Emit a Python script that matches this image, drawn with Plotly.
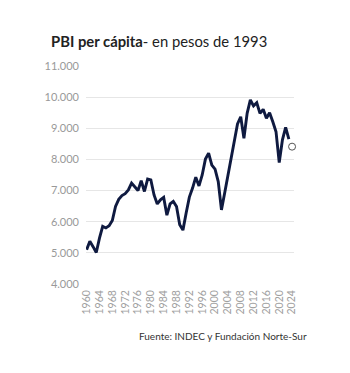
import plotly.graph_objects as go

years = list(range(1960, 2024))
pbi = [5100, 5370, 5200, 5010, 5470, 5850, 5800, 5870, 6040, 6490,
       6720, 6840, 6900, 7020, 7240, 7130, 7000, 7320, 6970, 7370,
       7340, 6860, 6570, 6700, 6780, 6210, 6570, 6650, 6490, 5900,
       5730, 6280, 6790, 7080, 7430, 7150, 7500, 8010, 8200, 7820,
       7690, 7290, 6380, 6920, 7470, 8040, 8600, 9140, 9370, 8680,
       9480, 9910, 9720, 9820, 9480, 9610, 9320, 9500, 9210, 8890,
       7900, 8630, 9030, 8650]
est_year = [2024]
est_val = [8410]
xticks = list(range(1960, 2025, 4))
yticks = [4000, 5000, 6000, 7000, 8000, 9000, 10000, 11000]

fig = go.Figure()
fig.add_trace(go.Scatter(x=years, y=pbi, mode="lines",
                         line=dict(color="#0f1a40", width=2.9),
                         showlegend=False, hoverinfo="skip"))
fig.add_trace(go.Scatter(x=est_year, y=est_val, mode="markers",
                         marker=dict(symbol="circle-open", size=7,
                                     color="#555555", line=dict(width=1)),
                         cliponaxis=False,
                         showlegend=False, hoverinfo="skip"))

fig.update_layout(
    width=350, height=373,
    margin=dict(l=86, r=56, t=66, b=89),
    paper_bgcolor="white", plot_bgcolor="white",
    separators=",.",
    font=dict(family="Lato", color="#999999"),
    xaxis=dict(range=[1959.8, 2024.6], tickvals=xticks, tickangle=-90,
               showgrid=False, zeroline=False, showline=False,
               tickfont=dict(size=10.5, color="#a0a0a0"),
               ticklabelstandoff=3, fixedrange=True),
    yaxis=dict(range=[4000, 11000], tickvals=yticks, tickformat=",d",
               showgrid=True, gridcolor="#e6e6e6", gridwidth=1,
               zeroline=False, showline=False,
               tickfont=dict(size=11, color="#999999"),
               ticklabelstandoff=6, fixedrange=True),
    annotations=[
        dict(text="<b>PBI per cápita</b>- en pesos de 1993", xref="paper",
             yref="paper", x=-37/208, y=1 + 25/218.3, xanchor="left",
             yanchor="middle", showarrow=False,
             font=dict(family="Lato", size=14.8, color="#222222")),
        dict(text="Fuente: INDEC y Fundación Norte-Sur", xref="paper",
             yref="paper", x=223/208, y=-52.5/218.3, xanchor="right",
             yanchor="middle", showarrow=False,
             font=dict(family="Lato", size=10, color="#333333")),
    ],
)

fig.write_html("out.html")
